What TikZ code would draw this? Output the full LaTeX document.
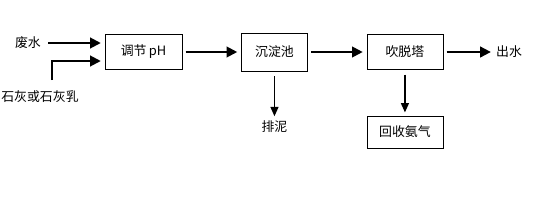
\documentclass[tikz,border=0pt]{standalone}
\usepackage{fontspec}
\newfontfamily\cjk{Noto Sans CJK SC}
\usetikzlibrary{arrows.meta,positioning}

\begin{document}
\begin{tikzpicture}[
			box/.style={draw, minimum height=1.05cm, font=\cjk\fontsize{11}{13}\selectfont},
			lbl/.style={font=\cjk\fontsize{11}{13}\selectfont, inner sep=1pt},
			main/.style={-{Triangle[length=3.2mm,width=3.2mm]}, line width=1.7pt, shorten >=0.12cm, shorten <=0.1cm},
			side/.style={-{Triangle[length=2.8mm,width=2.4mm]}, line width=1.1pt, shorten >=0.1cm, shorten <=0.15cm}
			]
			\useasboundingbox (0,0) rectangle (16.62,-6);
			\node[box, minimum width=2.31cm] (ph) at (4.305,-1.56) {调节\,pH};
			\node[box, minimum width=1.98cm, minimum height=1.14cm, right=1.77cm of ph] (sed) {沉淀池};
			\node[box, minimum width=2.28cm, right=1.77cm of sed] (strip) {吹脱塔};
			\node[box, minimum width=2.28cm, minimum height=0.96cm, below=1.38cm of strip] (nh3) {回收氨气};
			\node[lbl, right=1.55cm of strip] (out) {出水};
			\node[lbl, below=1.45cm of sed] (mud) {排泥};
			\node[lbl] (waste) at (0.84,-1.29) {废水};
			\node[lbl] (lime) at (1.2,-2.91) {石灰或石灰乳};
			\coordinate (a) at (1.45,-1.29);
			\coordinate (b) at (1.56,-2.4);
			
			\draw[main, shorten <=0pt] (a) -- (a -| ph.west);
			\draw[main, shorten <=0pt] (b) |- ([yshift=-0.27cm]ph.west);
			\draw[main] (ph) -- (sed);
			\draw[main] (sed) -- (strip);
			\draw[main] (strip) -- (out);
			\draw[side] (sed) -- (mud);
			\draw[side] (strip) -- (nh3);
		\end{tikzpicture}
\end{document}
